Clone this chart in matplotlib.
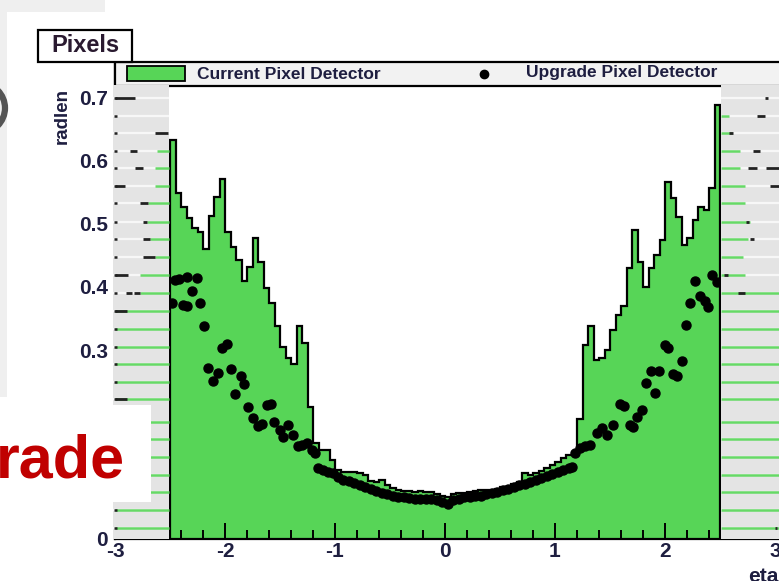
import numpy as np
import matplotlib
matplotlib.use("Agg")
import matplotlib.pyplot as plt
from matplotlib.patches import Rectangle, Ellipse
from matplotlib.ticker import MultipleLocator, FixedLocator, FixedFormatter

plt.rcParams['font.family'] = ['Liberation Sans', 'DejaVu Sans']
plt.rcParams['font.weight'] = 'bold'
plt.rcParams['axes.unicode_minus'] = False

W, H = 779, 581

# current pixel detector, 100 bins from -2.5 to 2.5
eta_edges = np.linspace(-2.5, 2.5, 101)
current_radlen = [
    0.633, 0.549, 0.527, 0.510, 0.494, 0.487, 0.460, 0.512, 0.543, 0.571,
    0.488, 0.464, 0.443, 0.410, 0.432, 0.478, 0.440, 0.398, 0.375, 0.338,
    0.305, 0.287, 0.278, 0.338, 0.311, 0.210, 0.152, 0.141, 0.142, 0.125,
    0.110, 0.107, 0.107, 0.106, 0.104, 0.102, 0.092, 0.091, 0.093, 0.086,
    0.081, 0.077, 0.076, 0.076, 0.075, 0.076, 0.075, 0.074, 0.072, 0.068,
    0.066, 0.071, 0.073, 0.073, 0.074, 0.076, 0.077, 0.078, 0.078, 0.079,
    0.082, 0.083, 0.088, 0.090, 0.105, 0.102, 0.104, 0.108, 0.113, 0.117,
    0.123, 0.128, 0.133, 0.138, 0.190, 0.308, 0.338, 0.284, 0.287, 0.300,
    0.332, 0.356, 0.370, 0.430, 0.490, 0.440, 0.400, 0.430, 0.450, 0.475,
    0.567, 0.541, 0.511, 0.467, 0.478, 0.506, 0.527, 0.522, 0.557, 0.689,
]

# upgrade pixel detector points
upgrade_eta = [
    -2.485, -2.455, -2.418, -2.379, -2.348, -2.348, -2.303, -2.257, -2.227, -2.188,
    -2.152, -2.106, -2.061, -2.025, -1.985, -1.945, -1.909, -1.855, -1.825, -1.788,
    -1.743, -1.697, -1.666, -1.621, -1.582, -1.552, -1.500, -1.470, -1.425, -1.379,
    -1.339, -1.303, -1.257, -1.212, -1.182, -1.152, -1.106, -1.061, -1.015, -0.970,
    -0.925, -0.875, -0.825, -0.775, -0.725, -0.675, -0.625, -0.575, -0.525, -0.475,
    -0.425, -0.375, -0.325, -0.275, -0.225, -0.175, -0.125, -0.075, -0.025, 0.025,
    0.075, 0.125, 0.175, 0.225, 0.275, 0.325, 0.375, 0.425, 0.475, 0.525,
    0.575, 0.625, 0.675, 0.725, 0.775, 0.825, 0.875, 0.925, 0.975, 1.025,
    1.075, 1.125, 1.152, 1.182, 1.227, 1.273, 1.318, 1.379, 1.424, 1.470,
    1.530, 1.591, 1.627, 1.682, 1.712, 1.748, 1.788, 1.827, 1.870, 1.912,
    1.948, 2.000, 2.030, 2.076, 2.112, 2.152, 2.191, 2.227, 2.273, 2.318,
    2.364, 2.394, 2.424, 2.470,
]
upgrade_radlen = [
    0.375, 0.411, 0.413, 0.371, 0.370, 0.416, 0.394, 0.414, 0.375, 0.338,
    0.271, 0.251, 0.263, 0.303, 0.310, 0.270, 0.230, 0.259, 0.246, 0.209,
    0.192, 0.179, 0.183, 0.213, 0.214, 0.186, 0.173, 0.162, 0.181, 0.165,
    0.148, 0.149, 0.153, 0.142, 0.136, 0.112, 0.110, 0.107, 0.104, 0.099,
    0.094, 0.092, 0.089, 0.085, 0.082, 0.079, 0.076, 0.073, 0.071, 0.069,
    0.067, 0.066, 0.065, 0.064, 0.064, 0.063, 0.063, 0.062, 0.059, 0.056,
    0.062, 0.064, 0.066, 0.067, 0.068, 0.069, 0.071, 0.073, 0.075, 0.077,
    0.079, 0.082, 0.085, 0.088, 0.091, 0.094, 0.097, 0.100, 0.103, 0.106,
    0.109, 0.112, 0.115, 0.136, 0.144, 0.147, 0.149, 0.168, 0.176, 0.165,
    0.181, 0.214, 0.211, 0.181, 0.177, 0.194, 0.205, 0.248, 0.266, 0.232,
    0.266, 0.308, 0.303, 0.262, 0.259, 0.283, 0.340, 0.375, 0.410, 0.385,
    0.377, 0.369, 0.419, 0.408,
]

x_ticks = [-3, -2, -1, 0, 1, 2, 3]
y_ticks = [0, 0.1, 0.2, 0.3, 0.4, 0.5, 0.6, 0.7]
y_tick_labels = ['0', '0.1', '0.2', '0.3', '0.4', '0.5', '0.6', '0.7']

green = '#57d557'
txt = '#1e1e40'


def fx(px):
    return px / W


def fy(py):
    return 1 - py / H


def dx(px):
    return (px - 445) / 110.0


def dy(py):
    return (539 - py) / 630.0


fig = plt.figure(figsize=(W / 100, H / 100), dpi=100)

# bits of the slide around the plot
fig.add_artist(Rectangle((0, fy(12)), fx(105), 12 / H, facecolor='#efefef', edgecolor='none'))
fig.add_artist(Rectangle((0, fy(397)), fx(7), 385 / H, facecolor='#efefef', edgecolor='none'))
fig.add_artist(Ellipse((fx(-20), fy(108)), 50 / W, 50 / H, fill=False,
                       edgecolor='#555555', lw=4.5))

ax = fig.add_axes([fx(115), fy(539), (W - 115) / W, (539 - 62) / H])
ax.set_xlim(-3, dx(W))
ax.set_ylim(0, dy(62))

ax.stairs(current_radlen, eta_edges, fill=True, color=green, zorder=1)
ax.stairs(current_radlen, eta_edges, baseline=0, color='black', lw=1.6, zorder=2)
ax.plot(upgrade_eta, upgrade_radlen, 'o', color='black', ms=6.5, zorder=2.6)

ax.xaxis.set_major_locator(FixedLocator(x_ticks))
ax.xaxis.set_minor_locator(MultipleLocator(0.2))
ax.yaxis.set_major_locator(FixedLocator(y_ticks))
ax.yaxis.set_major_formatter(FixedFormatter(y_tick_labels))
ax.tick_params(axis='x', which='major', direction='in', length=11.5, width=1.4,
               labelsize=15, pad=2, labelcolor=txt)
ax.tick_params(axis='x', which='minor', direction='in', length=6.5, width=1.4)
ax.tick_params(axis='y', which='both', direction='in', length=0, labelsize=15,
               pad=5, labelcolor=txt)
for side in ['top', 'right']:
    ax.spines[side].set_visible(False)
ax.spines['bottom'].set_linewidth(1.6)
ax.spines['left'].set_linewidth(1.6)

# legend bar across the top of the frame
ax.add_patch(Rectangle((fx(115), fy(86)), (W + 10 - 115) / W, 24 / H, transform=fig.transFigure,
                       facecolor='#f2f2f2', edgecolor='black', lw=1.6, clip_on=False, zorder=3.5))
ax.add_patch(Rectangle((fx(127), fy(81)), 58 / W, 15 / H, transform=fig.transFigure,
                       facecolor=green, edgecolor='black', lw=1.3, clip_on=False, zorder=3.6))
ax.text(fx(197), fy(74), 'Current Pixel Detector', transform=fig.transFigure, ha='left',
        va='center', fontsize=12.5, color=txt, zorder=3.6)
ax.plot([fx(484)], [fy(74)], 'o', color='black', ms=6, transform=fig.transFigure,
        clip_on=False, zorder=3.6)
ax.text(fx(526), fy(72), 'Upgrade Pixel Detector', transform=fig.transFigure, ha='left',
        va='center', fontsize=12.5, color=txt, zorder=3.6)

# grey strips outside |eta| < 2.5
band_top = dy(85)
ax.add_patch(Rectangle((dx(113), 0), dx(169) - dx(113), band_top, facecolor='#e4e4e4',
                       edgecolor='none', clip_on=False, zorder=4))
ax.add_patch(Rectangle((dx(721), 0), dx(W + 5) - dx(721), band_top, facecolor='#e4e4e4',
                       edgecolor='none', clip_on=False, zorder=4))

rows = [98, 116, 133, 151, 168, 186, 203, 222, 239, 257, 275, 293,
        311, 329, 347, 364, 382, 399, 422, 439, 457, 475, 492, 510, 528]
left_green = [None, None, None, 157, 155, 155, 148, 147, 150, 155, 140, 140] + [115] * 13
right_green = [None, 724, 727, 735, 735, 740, 740, 745, 743, 738, 740, 779] + [779] * 13
for r, lg, rg in zip(rows, left_green, right_green):
    y = dy(r)
    ax.hlines(y, dx(113), dx(169), color='#f7f7f7', lw=1.6, clip_on=False, zorder=4.1)
    ax.hlines(y, dx(721), dx(W + 5), color='#f7f7f7', lw=1.6, clip_on=False, zorder=4.1)
    if lg is not None:
        ax.hlines(y, dx(lg), dx(169), color='#66d966', lw=1.8, clip_on=False, zorder=4.2)
    if rg is not None:
        ax.hlines(y, dx(721), dx(rg + 5), color='#66d966', lw=1.8, clip_on=False, zorder=4.2)
    ax.hlines(y, dx(114), dx(117), color='#222222', lw=1.8, clip_on=False, zorder=4.3)

left_dashes = [(98, 115, 135), (133, 155, 168), (151, 130, 137), (168, 135, 143),
               (186, 115, 125), (203, 140, 148), (222, 143, 147), (239, 143, 150),
               (257, 143, 155), (275, 115, 128), (293, 126, 132), (293, 134, 140),
               (311, 115, 127), (399, 115, 127)]
right_dashes = [(98, 765, 768), (116, 757, 765), (133, 729, 733), (151, 753, 760),
                (168, 748, 757), (168, 766, 779), (186, 770, 779), (222, 746, 749),
                (239, 750, 754), (275, 724, 728), (293, 738, 745), (528, 775, 777)]
for r, a, b in left_dashes + right_dashes:
    ax.hlines(dy(r), dx(a), dx(b), color='#222222', lw=2, clip_on=False, zorder=4.3)

# axis titles
fig.text(fx(62), fy(88), 'radlen', rotation=90, ha='center', va='top', fontsize=13.5, color=txt)
fig.text(fx(748), fy(576), 'eta', ha='left', va='center', fontsize=15, color=txt)

# "Pixels" title box
fig.add_artist(Rectangle((fx(38), fy(62)), 94 / W, 32 / H, facecolor='white',
                         edgecolor='black', lw=1.6))
fig.text(fx(85), fy(46), 'Pixels', ha='center', va='center', fontsize=17, color='#2a1a30')

# cut-off slide title
fig.add_artist(Rectangle((0, fy(502)), fx(151), 97 / H, facecolor='white', edgecolor='none'))
fig.text(fx(125), fy(478), 'rade', ha='right', va='baseline', fontsize=44,
         color='#c00000', fontweight='bold')

fig.savefig('out.png', dpi=100)
